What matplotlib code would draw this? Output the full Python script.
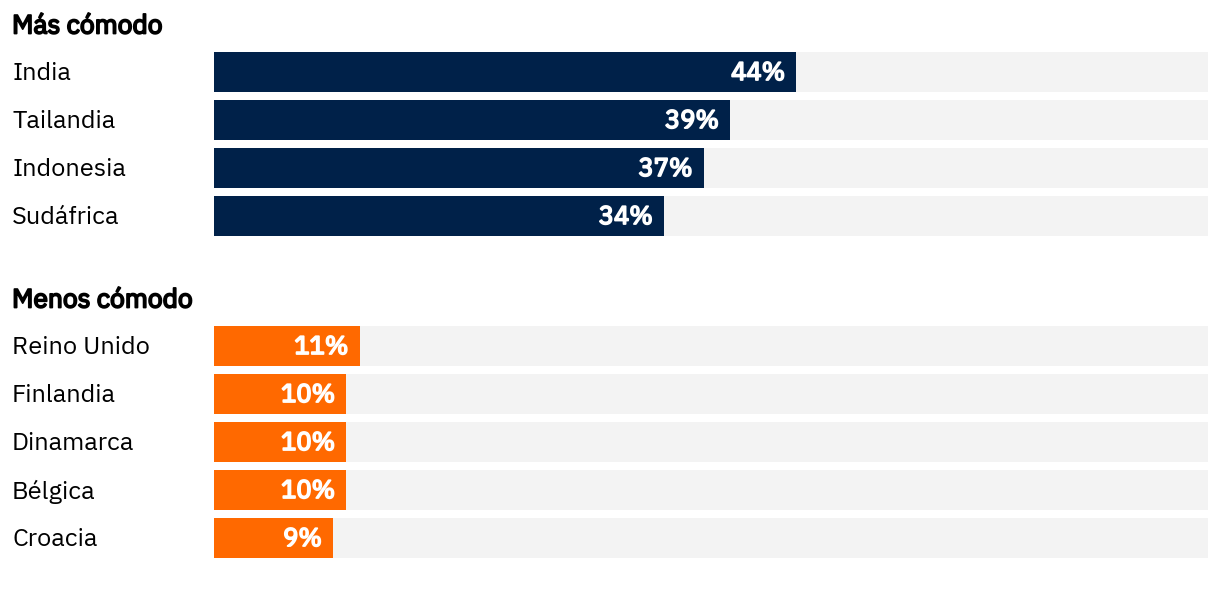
import matplotlib
matplotlib.use('Agg')

from matplotlib import pyplot as plt
from matplotlib import patheffects
from matplotlib.transforms import blended_transform_factory

# data
top_title = "Más cómodo"
top_countries = ["India", "Tailandia", "Indonesia", "Sudáfrica"]
top_values = [44, 39, 37, 34]

bottom_title = "Menos cómodo"
bottom_countries = ["Reino Unido", "Finlandia", "Dinamarca", "Bélgica", "Croacia"]
bottom_values = [11, 10, 10, 10, 9]

axis_max = 75.1

NAVY = "#002149"
ORANGE = "#ff6900"
TRACK = "#f3f3f3"

plt.rcParams['font.family'] = ['IBM Plex Sans', 'Noto Sans', 'DejaVu Sans']

W, H = 1220, 610
fig = plt.figure(figsize=(W / 100, H / 100), dpi=100)
ax = fig.add_axes([214 / W, 0, 994 / W, 1])
ax.set_xlim(0, axis_max)
ax.set_ylim(H, 0)
ax.axis("off")

label_tf = blended_transform_factory(fig.transFigure, ax.transData)
pitch = 48
bar_h = 40
fs = 18.3


def bold(color):
    # the installed Plex has no bold face, so thicken the strokes
    return [patheffects.withStroke(linewidth=1.3, foreground=color)]


def draw_group(title, countries, values, color, first_center):
    ax.text(12 / W, first_center - 46, title, transform=label_tf,
            fontsize=19, color="black", ha="left", va="center",
            path_effects=bold("black"))
    centers = [first_center + i * pitch for i in range(len(countries))]
    ax.barh(centers, [axis_max] * len(centers), height=bar_h, color=TRACK, left=0)
    ax.barh(centers, values, height=bar_h, color=color, left=0)
    for c, name, v in zip(centers, countries, values):
        ax.text(12 / W, c + 1.5, name, transform=label_tf, fontsize=fs,
                color="black", ha="left", va="center")
        ax.text(v - 0.85, c + 1.5, f"{v}%", fontsize=fs,
                color="white", ha="right", va="center",
                path_effects=bold("white"))


draw_group(top_title, top_countries, top_values, NAVY, 72)
draw_group(bottom_title, bottom_countries, bottom_values, ORANGE, 346)

fig.savefig("out.png", dpi=100)
plt.close(fig)
